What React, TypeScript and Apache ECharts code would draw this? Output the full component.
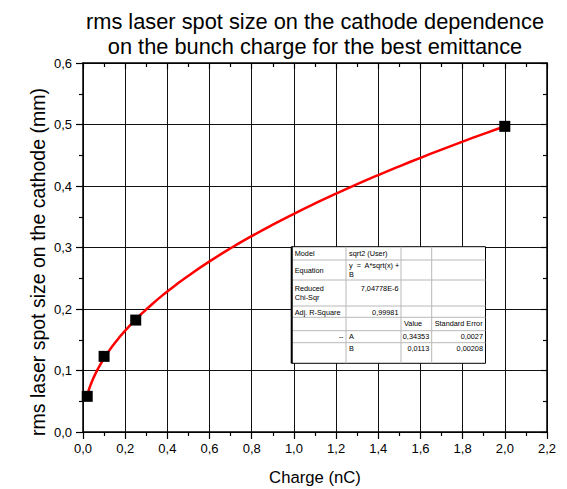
import React, { useEffect, useRef } from "react";
import * as echarts from "echarts";

// Measured points: bunch charge (nC) vs rms laser spot size on the cathode (mm)
const chargeNC = [0.02, 0.1, 0.25, 2.0];
const spotSizeMM = [0.058, 0.123, 0.182, 0.497];

// Fit model y = A*sqrt(x) + B with the reported parameters
const fitA = 0.34353;
const fitB = 0.0113;
const fitX = [
  0.02, 0.03, 0.04, 0.05, 0.06, 0.07, 0.08, 0.1, 0.12, 0.14, 0.17, 0.2, 0.24, 0.28,
  0.33, 0.38, 0.44, 0.5, 0.6, 0.7, 0.8, 0.9, 1.0, 1.1, 1.2, 1.3, 1.4, 1.5, 1.6, 1.7,
  1.8, 1.9, 2.0,
];

// Fit result table: [text, column, alignment]
const tableRows: [string, number, "left" | "right"][][] = [
  [["Model", 0, "left"], ["sqrt2 (User)", 1, "left"]],
  [["Equation", 0, "left"], ["y  =  A*sqrt(x) +\nB", 1, "left"]],
  [["Reduced\nChi-Sqr", 0, "left"], ["7,04778E-6\n ", 1, "right"]],
  [["Adj. R-Square", 0, "left"], ["0,99981", 1, "right"]],
  [["Value", 2, "left"], ["Standard Error", 3, "left"]],
  [["--", 0, "right"], ["A", 1, "left"], ["0,34353", 2, "right"], ["0,0027", 3, "right"]],
  [["B", 1, "left"], ["0,0113", 2, "right"], ["0,00208", 3, "right"]],
];

const FONT = "'Liberation Sans', Arial, Helvetica, sans-serif";

const comma = (v: number) => v.toFixed(1).replace(".", ",");

function buildTable() {
  const cols = [291.7, 346, 401, 431.7, 485.5];
  const rows = [246.7, 260, 280, 306, 317.3, 330.7, 342.7, 363.3];
  // vertical centre of the text in each row
  const textMid = [253.5, 270, 293, 312, 323.8, 336.2, 348];
  const els: any[] = [];
  const L = cols[0], R = cols[cols.length - 1], T = rows[0], B = rows[rows.length - 1];
  els.push({
    type: "rect",
    z: 100,
    shape: { x: L, y: T, width: R - L, height: B - T },
    style: { fill: "#fff", stroke: "#000", lineWidth: 1 },
  });
  for (let i = 1; i < rows.length - 1; i++) {
    els.push({
      type: "line",
      z: 101,
      shape: { x1: L, y1: rows[i], x2: R, y2: rows[i] },
      style: { stroke: "#b8b8b8", lineWidth: 1 },
    });
  }
  for (let j = 1; j < cols.length - 1; j++) {
    els.push({
      type: "line",
      z: 101,
      shape: { x1: cols[j], y1: T, x2: cols[j], y2: B },
      style: { stroke: "#b8b8b8", lineWidth: 1 },
    });
  }
  els.push({
    type: "line",
    z: 102,
    shape: { x1: L, y1: T, x2: L, y2: B },
    style: { stroke: "#000", lineWidth: 2 },
  });
  tableRows.forEach((row, i) => {
    row.forEach(([txt, j, align]) => {
      const x = align === "right" ? cols[j + 1] - 2.5 : cols[j] + 3;
      els.push({
        type: "text",
        z: 103,
        x,
        y: textMid[i],
        style: {
          text: txt,
          fill: "#000",
          font: `7.3px ${FONT}`,
          textAlign: align,
          textVerticalAlign: "middle",
          lineHeight: 9.4,
        },
      });
    });
  });
  return els;
}

export default function App() {
  const ref = useRef<HTMLDivElement>(null);

  useEffect(() => {
    if (!ref.current) return;
    const chart = echarts.init(ref.current, null, { renderer: "svg" });

    const axisLine = { show: true, onZero: false, lineStyle: { color: "#000", width: 1.5 } };
    const labelStyle = { color: "#000", fontSize: 13, fontFamily: FONT };

    chart.setOption({
      animation: false,
      backgroundColor: "#fff",
      grid: { left: 83, right: 20, top: 63, bottom: 57 },
      xAxis: [
        {
          type: "value",
          position: "bottom",
          min: 0,
          max: 2.2,
          interval: 0.2,
          axisLine,
          axisTick: { show: true, inside: false, length: 7, lineStyle: { color: "#000", width: 1.2 } },
          minorTick: { show: true, splitNumber: 2, length: 4, lineStyle: { color: "#000", width: 1.2 } },
          splitLine: { show: true, lineStyle: { color: "#111", width: 1 } },
          axisLabel: { ...labelStyle, margin: 10, formatter: (v: number) => comma(v) },
        },
        {
          type: "value",
          position: "top",
          min: 0,
          max: 2.2,
          interval: 0.2,
          axisLine,
          axisTick: { show: true, inside: true, length: 6, lineStyle: { color: "#000", width: 1.2 } },
          minorTick: { show: true, splitNumber: 2, length: 4, lineStyle: { color: "#000", width: 1.2 } },
          splitLine: { show: false },
          axisLabel: { show: false },
        },
      ],
      yAxis: [
        {
          type: "value",
          position: "left",
          min: 0,
          max: 0.6,
          interval: 0.1,
          axisLine,
          axisTick: { show: true, inside: false, length: 7, lineStyle: { color: "#000", width: 1.2 } },
          minorTick: { show: true, splitNumber: 2, length: 4, lineStyle: { color: "#000", width: 1.2 } },
          splitLine: { show: true, lineStyle: { color: "#111", width: 1 } },
          axisLabel: { ...labelStyle, margin: 11, formatter: (v: number) => comma(v) },
        },
        {
          type: "value",
          position: "right",
          min: 0,
          max: 0.6,
          interval: 0.1,
          axisLine,
          axisTick: { show: true, inside: true, length: 6, lineStyle: { color: "#000", width: 1.2 } },
          minorTick: { show: true, splitNumber: 2, length: 4, lineStyle: { color: "#000", width: 1.2 } },
          splitLine: { show: false },
          axisLabel: { show: false },
        },
      ],
      series: [
        {
          type: "line",
          name: "fit",
          xAxisIndex: 0,
          yAxisIndex: 0,
          data: fitX.map((x) => [x, fitA * Math.sqrt(x) + fitB]),
          showSymbol: false,
          smooth: true,
          lineStyle: { color: "#ff0000", width: 2.5 },
          z: 3,
        },
        {
          type: "scatter",
          name: "data",
          xAxisIndex: 0,
          yAxisIndex: 0,
          data: chargeNC.map((x, i) => [x, spotSizeMM[i]]),
          symbol: "rect",
          symbolSize: 11,
          itemStyle: { color: "#000", opacity: 1 },
          z: 4,
        },
      ],
      graphic: [
        {
          type: "text",
          x: 315,
          y: 21.5,
          style: {
            text: "rms laser spot size on the cathode dependence",
            font: `21.8px ${FONT}`,
            fill: "#000",
            textAlign: "center",
            textVerticalAlign: "middle",
          },
        },
        {
          type: "text",
          x: 315,
          y: 46,
          style: {
            text: "on the bunch charge for the best emittance",
            font: `21.8px ${FONT}`,
            fill: "#000",
            textAlign: "center",
            textVerticalAlign: "middle",
          },
        },
        {
          type: "text",
          x: 38,
          y: 262,
          rotation: Math.PI / 2,
          style: {
            text: "rms laser spot size on the cathode (mm)",
            font: `19.5px ${FONT}`,
            fill: "#000",
            textAlign: "center",
            textVerticalAlign: "middle",
          },
        },
        {
          type: "text",
          x: 315,
          y: 477,
          style: {
            text: "Charge (nC)",
            font: `16.7px ${FONT}`,
            fill: "#000",
            textAlign: "center",
            textVerticalAlign: "middle",
          },
        },
        ...buildTable(),
      ],
    });

    return () => chart.dispose();
  }, []);

  return (
    <div
      ref={ref}
      style={{ position: "fixed", left: 0, top: 0, width: 567, height: 489, background: "#fff" }}
    />
  );
}
